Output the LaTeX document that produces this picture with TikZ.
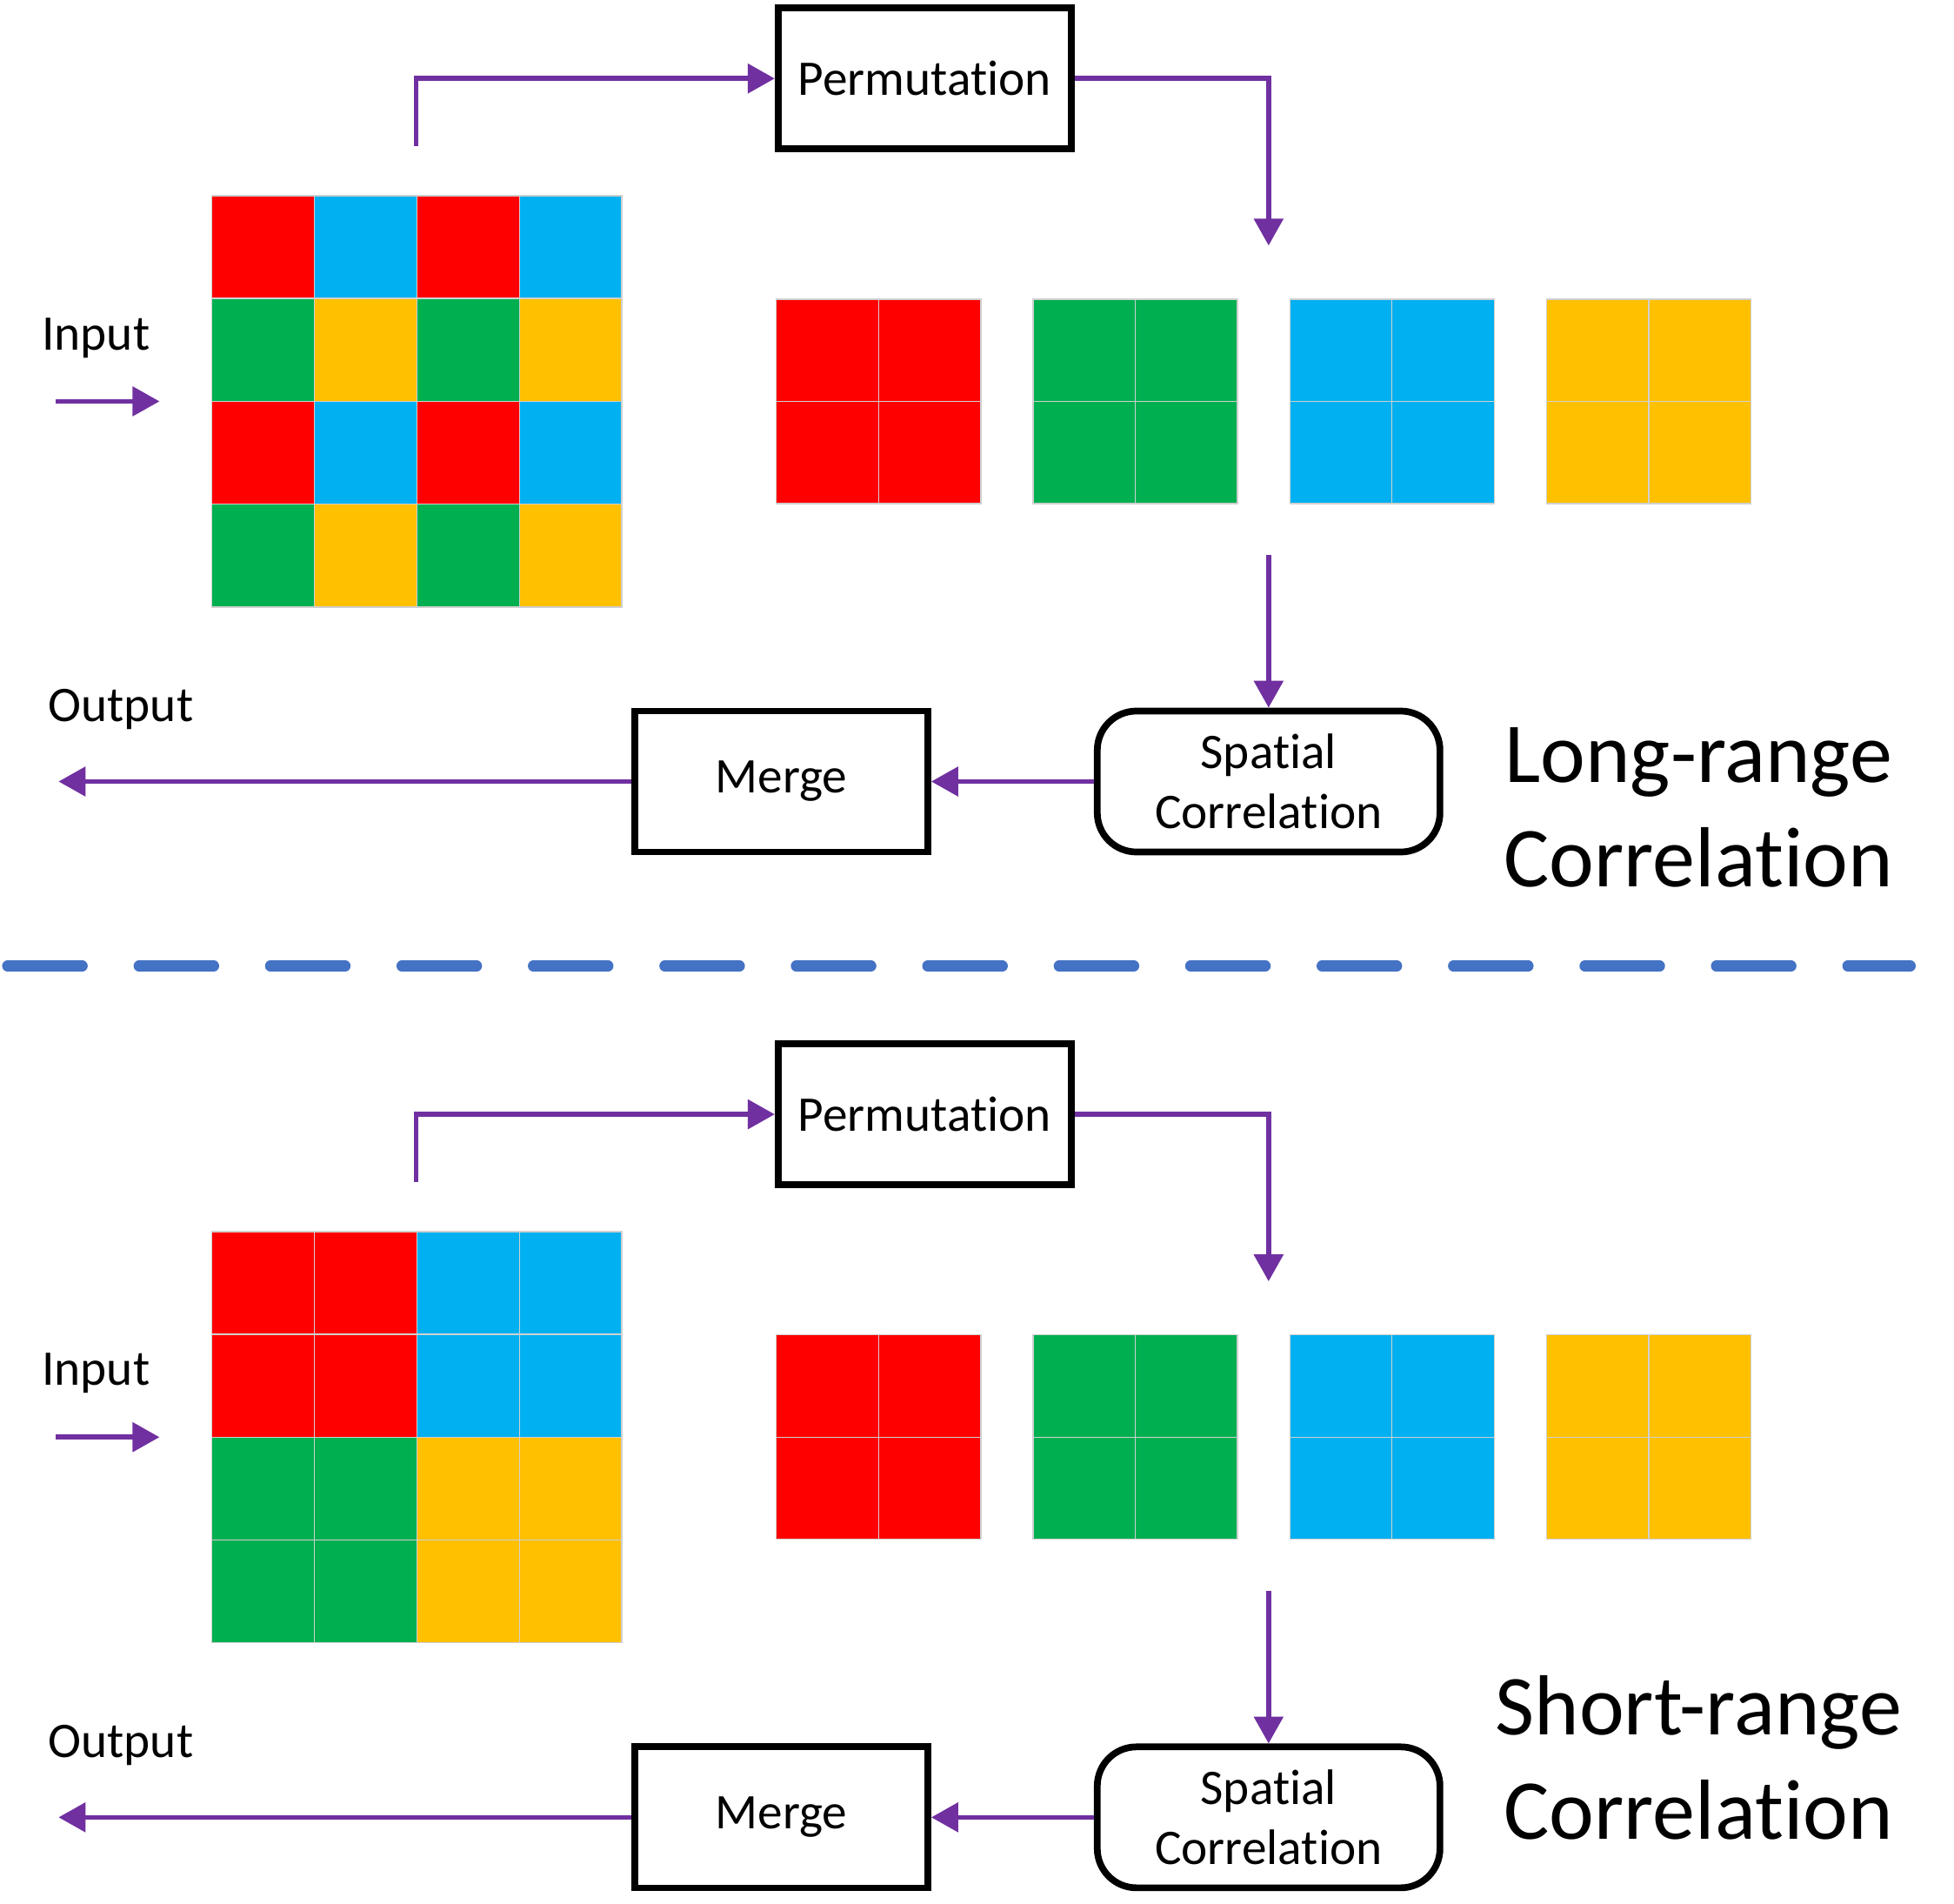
\documentclass[tikz,border=0pt]{standalone}
\usepackage{fontspec}
\setmainfont{Carlito}[RawFeature={-liga;-calt;-dlig;-clig}]
\usetikzlibrary{arrows.meta}

\definecolor{cred}{HTML}{FF0000}
\definecolor{cgreen}{HTML}{00B050}
\definecolor{csky}{HTML}{00B0F0}
\definecolor{cyellow}{HTML}{FFC000}
\definecolor{cpurple}{HTML}{7030A0}
\definecolor{cdash}{HTML}{4472C4}
\definecolor{cgrid}{HTML}{D0D0D0}

\tikzstyle{process} = [rectangle, minimum width=3.37cm, minimum height=1.62cm, text centered, draw=black, line width=2.2pt, font=\fontsize{16.3}{19.6}\selectfont]
\tikzstyle{roundbox} = [process, rounded corners=0.45cm, minimum width=3.94cm, align=center]
\tikzstyle{arrow} = [line width=1.6pt, draw=cpurple, -{Triangle[length=8.8pt,width=9.4pt]}]
\tikzstyle{cell} = [draw=cgrid, line width=0.4pt]
\tikzstyle{plain} = [font=\fontsize{16.3}{19.6}\selectfont]
\tikzstyle{bigtext} = [font=\fontsize{27.9}{34}\selectfont, align=center]
\tikzstyle{divider} = [draw=cdash, line width=3.5pt, line cap=round, dash pattern=on 24.5pt off 18.5pt]

\begin{document}
\begin{tikzpicture}[x=0.01433cm, y=-0.01433cm]
    \useasboundingbox (0,0) rectangle (1568,1527);

    % Input grids
    \foreach \r/\row in {0/{cred,csky,cred,csky}, 1/{cgreen,cyellow,cgreen,cyellow}, 2/{cred,csky,cred,csky}, 3/{cgreen,cyellow,cgreen,cyellow}}
        \foreach \col [count=\k from 0] in \row
            \draw[cell, fill=\col] (170+\k*82.25, 157+\r*82.5) rectangle ++(82.25,82.5);
    \foreach \r/\row in {0/{cred,cred,csky,csky}, 1/{cred,cred,csky,csky}, 2/{cgreen,cgreen,cyellow,cyellow}, 3/{cgreen,cgreen,cyellow,cyellow}}
        \foreach \col [count=\k from 0] in \row
            \draw[cell, fill=\col] (170+\k*82.25, 988+\r*82.5) rectangle ++(82.25,82.5);

    % Both halves share the same flow
    \foreach \h/\dy in {a/0, b/831} {
        % Blocks after permutation
        \foreach \col [count=\k from 0] in {cred,cgreen,csky,cyellow}
            \foreach \i in {0,1}
                \foreach \j in {0,1}
                    \draw[cell, fill=\col] (623+\k*206+\i*82, 240+\dy+\j*82) rectangle ++(82,82);

        % Nodes
        \node[process] (perm\h) at (742,63+\dy) {Permutation};
        \node[roundbox] (spat\h) at (1018,627+\dy) {Spatial\\Correlation};
        \node[process] (merge\h) at (627,627+\dy) {Merge\vphantom{p}};
        \node[plain] (input\h) at (77,271+\dy) {Input};
        \node[plain] (output\h) at (97,569+\dy) {Output};

        \coordinate (inS\h) at (45,322+\dy);
        \coordinate (inE\h) at (128,322+\dy);
        \coordinate (src\h) at (334,117+\dy);
        \coordinate (split\h) at (1018,197+\dy);
        \coordinate (join\h) at (1018,445+\dy);
        \coordinate (out\h) at (47,627+\dy);

        % Arrows
        \draw[arrow] (inS\h) -- (inE\h);
        \draw[arrow] (src\h) |- (perm\h.west);
        \draw[arrow] (perm\h.east) -| (split\h);
        \draw[arrow] (join\h) -- (spat\h.north);
        \draw[arrow] (spat\h.west) -- (merge\h.east);
        \draw[arrow] (merge\h.west) -- (out\h);
    }

    % Titles
    \node[bigtext] (longtitle) at (1363,648) {Long-range\\Correlation};
    \node[bigtext] (shorttitle) at (1363,1410) {Short-range\\Correlation};

    % Divider
    \draw[divider] (6,775) -- (1533,775);

\end{tikzpicture}
\end{document}
